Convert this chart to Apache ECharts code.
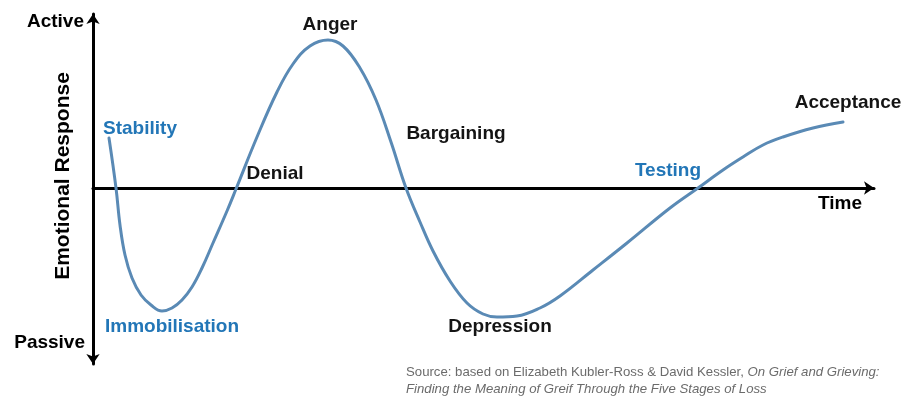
<!DOCTYPE html>
<html>
<head>
<meta charset="utf-8">
<script src="https://cdn.jsdelivr.net/npm/echarts@6/dist/echarts.min.js"></script>
<style>
html,body{margin:0;padding:0;background:#fff;}
#chart{width:917px;height:403px;}
</style>
</head>
<body>
<div id="chart"></div>
<script>
// Time (arbitrary units from the vertical axis) and emotional response (0 = neutral)
var timeValues = [16, 23, 27, 32, 39, 48, 58, 69, 79, 89, 99, 109, 120, 134, 143, 164, 184, 200, 217, 235, 250, 267, 283, 298, 313, 327, 340, 357, 374, 390, 404, 424, 447, 467, 500, 534, 577, 605, 630, 650, 670, 690, 720, 750];
var responseValues = [50, 0, -37, -67, -90, -107, -117, -123, -120, -112, -99, -80, -55, -23, -1, 51, 96, 124, 142, 148, 142, 120, 88, 46, 0, -34, -63, -93, -115, -126, -129, -128, -120, -108, -82, -55, -20, 0, 18, 31, 43, 51, 60, 66];

var stageNames = ['Stability', 'Immobilisation', 'Denial', 'Anger', 'Bargaining', 'Depression', 'Testing', 'Acceptance'];
var stageHighlighted = [true, true, false, false, false, false, true, false];

var axisNames = {top: 'Active', bottom: 'Passive', y: 'Emotional Response', x: 'Time'};
var sourceLine1 = 'Source: based on Elizabeth Kubler-Ross & David Kessler, ';
var sourceLine1Italic = 'On Grief and Grieving:';
var sourceLine2 = 'Finding the Meaning of Greif Through the Five Stages of Loss';

var curveData = timeValues.map(function (t, i) { return [t, responseValues[i]]; });

var BLUE = '#2276b7';
var DARK = '#141414';
var FONT = '"Liberation Sans", Arial, sans-serif';
var labelFont = 'bold 19px ' + FONT;

// label placement (pixel positions for annotation text)
var stagePos = [
  [140, 129], [172, 327], [275, 174], [330, 25], [456, 134], [500, 327], [668, 171], [848, 103]
];

var graphics = [];
stageNames.forEach(function (name, i) {
  graphics.push({
    type: 'text', x: stagePos[i][0], y: stagePos[i][1],
    style: { text: name, font: labelFont, fill: stageHighlighted[i] ? BLUE : DARK, align: 'center', verticalAlign: 'middle' }
  });
});
graphics.push({ type: 'text', x: 84, y: 22, style: { text: axisNames.top, font: labelFont, fill: '#000', align: 'right', verticalAlign: 'middle' } });
graphics.push({ type: 'text', x: 85, y: 343, style: { text: axisNames.bottom, font: labelFont, fill: '#000', align: 'right', verticalAlign: 'middle' } });
graphics.push({ type: 'text', x: 840, y: 204, style: { text: axisNames.x, font: labelFont, fill: '#000', align: 'center', verticalAlign: 'middle' } });
graphics.push({ type: 'text', x: 63, y: 176, rotation: Math.PI / 2, style: { text: axisNames.y, font: 'bold 21px ' + FONT, fill: '#000', align: 'center', verticalAlign: 'middle' } });
graphics.push({
  type: 'text', x: 406, y: 364,
  style: {
    text: '{n|' + sourceLine1 + '}{i|' + sourceLine1Italic + '}\n{i|' + sourceLine2 + '}',
    fill: '#6b6b6b', align: 'left', verticalAlign: 'top',
    rich: {
      n: { fontFamily: FONT, fontSize: 13.2, fill: '#6b6b6b', lineHeight: 17 },
      i: { fontFamily: FONT, fontSize: 13.2, fontStyle: 'italic', fill: '#6b6b6b', lineHeight: 17 }
    }
  }
});

var chart = echarts.init(document.getElementById('chart'), null, { renderer: 'canvas' });
chart.setOption({
  animation: false,
  backgroundColor: '#fff',
  grid: { left: 93, right: 43, top: 14, bottom: 39, containLabel: false },
  xAxis: {
    type: 'value', min: 0, max: 781,
    axisLine: { onZero: true, lineStyle: { color: '#000', width: 3 }, symbol: ['none', 'arrow'], symbolSize: [10, 10] },
    axisTick: { show: false }, axisLabel: { show: false }, splitLine: { show: false }
  },
  yAxis: {
    type: 'value', min: -176, max: 174,
    axisLine: { show: true, onZero: false, lineStyle: { color: '#000', width: 3 }, symbol: ['arrow', 'arrow'], symbolSize: [10, 10] },
    axisTick: { show: false }, axisLabel: { show: false }, splitLine: { show: false }
  },
  series: [{
    type: 'line', data: curveData, smooth: 0.4, showSymbol: false,
    lineStyle: { color: '#5a8ab5', width: 3, cap: 'round', join: 'round' }, z: 1
  }],
  graphic: graphics
});
</script>
</body>
</html>
